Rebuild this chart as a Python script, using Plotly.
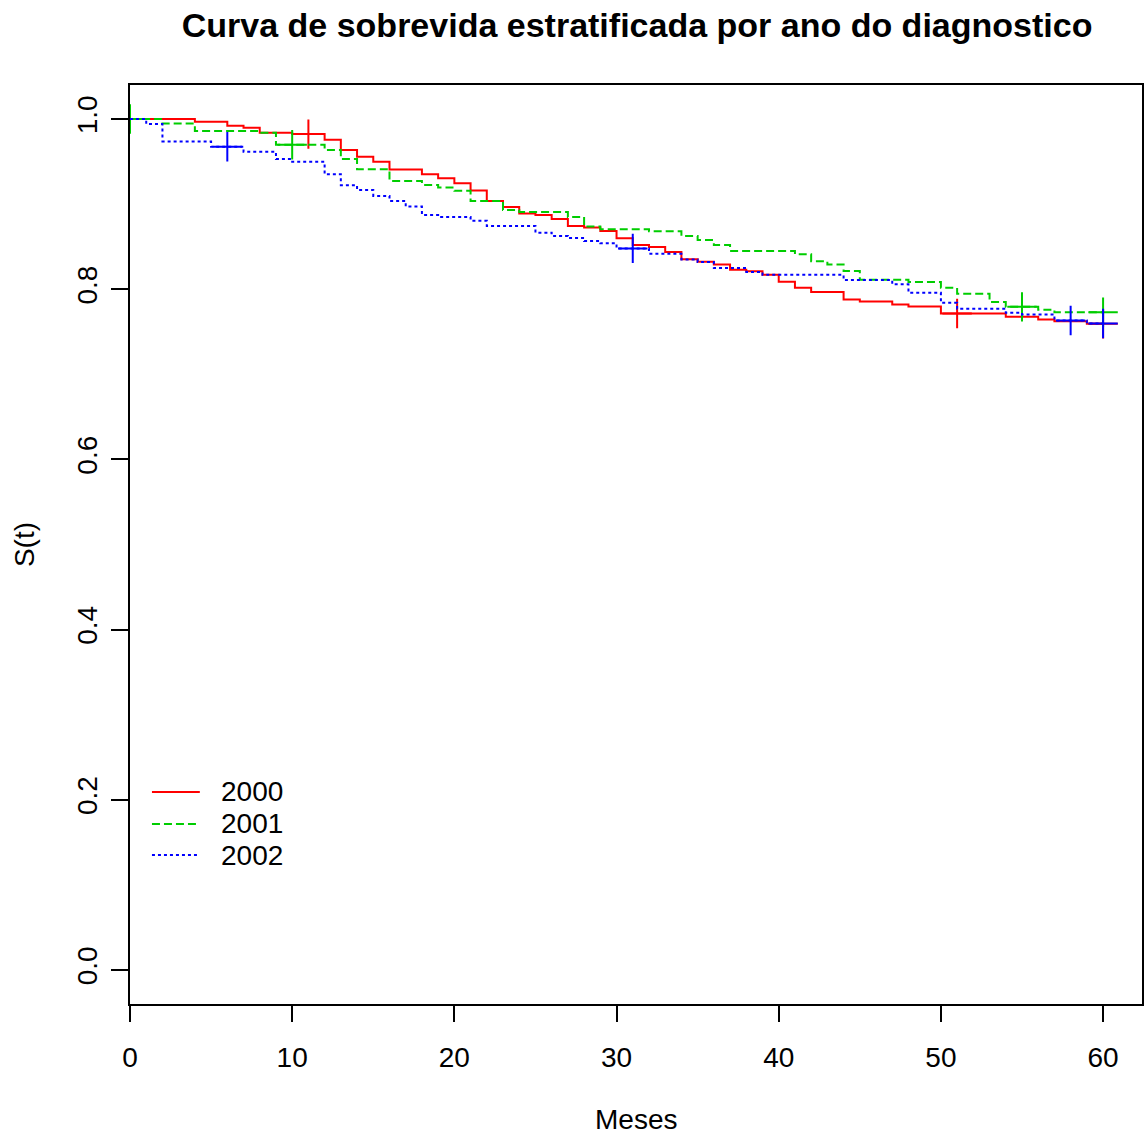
import plotly.graph_objects as go

# Kaplan-Meier estimates by year of diagnosis (time in months)
years = ["2000", "2001", "2002"]

t_2000 = [0, 4, 6, 7, 8, 10, 12, 13, 14, 15, 16, 18, 19, 20, 21, 22, 23, 24, 25, 26, 27, 28, 29, 30,
          31, 32, 33, 34, 35, 36, 37, 38, 39, 40, 41, 42, 44, 45, 47, 48, 50, 54, 56, 57, 59, 60]
s_2000 = [1.0, 0.9968, 0.992, 0.9898, 0.9839, 0.9823, 0.9757, 0.9635, 0.9556, 0.9497, 0.9407, 0.9352,
          0.9305, 0.9246, 0.916, 0.9038, 0.8967, 0.8889, 0.8873, 0.8826, 0.8743, 0.8724, 0.8684, 0.860,
          0.852, 0.8496, 0.8437, 0.8351, 0.8323, 0.8292, 0.8229, 0.821, 0.817, 0.8088, 0.8017, 0.7966,
          0.788, 0.7856, 0.782, 0.7797, 0.7715, 0.7676, 0.7644, 0.7625, 0.7593, 0.7593]
cens_t_2000 = [11, 51, 60]
cens_s_2000 = [0.9823, 0.7715, 0.7593]

t_2001 = [0, 2, 4, 8, 9, 12, 13, 14, 16, 18, 19, 20, 21, 23, 24, 27, 28, 29, 32, 34, 35, 36, 37,
          41, 42, 43, 44, 45, 48, 50, 51, 53, 54, 56, 57, 60]
s_2001 = [1.0, 0.9949, 0.986, 0.984, 0.9698, 0.9635, 0.9529, 0.941, 0.9273, 0.9226, 0.9195, 0.9156,
          0.9038, 0.8931, 0.8908, 0.885, 0.8736, 0.8704, 0.868, 0.8626, 0.8578, 0.852, 0.845, 0.841,
          0.833, 0.829, 0.8213, 0.811, 0.8084, 0.8017, 0.7946, 0.785, 0.7793, 0.776, 0.773, 0.773]
cens_t_2001 = [0, 10, 55, 60]
cens_s_2001 = [1.0, 0.9698, 0.7793, 0.773]

t_2002 = [0, 1, 2, 5, 7, 9, 10, 12, 13, 14, 15, 16, 17, 18, 19, 21, 22, 25, 26, 27, 28, 29, 30,
          32, 34, 35, 36, 38, 39, 44, 47, 48, 50, 51, 54, 55, 57, 59, 60]
s_2002 = [1.0, 0.9941, 0.9737, 0.9674, 0.9615, 0.9529, 0.9497, 0.9352, 0.9223, 0.9167, 0.9097, 0.9038,
          0.8971, 0.8873, 0.885, 0.8806, 0.8743, 0.8665, 0.8626, 0.8602, 0.8567, 0.854, 0.848, 0.8418,
          0.835, 0.832, 0.8249, 0.8202, 0.817, 0.8107, 0.8057, 0.7958, 0.784, 0.777, 0.7723, 0.7703,
          0.7633, 0.7597, 0.7597]
cens_t_2002 = [6, 31, 58, 60]
cens_s_2002 = [0.9674, 0.848, 0.7633, 0.7597]

x_ticks = [0, 10, 20, 30, 40, 50, 60]
y_ticks = [0.0, 0.2, 0.4, 0.6, 0.8, 1.0]

colors = ["#FF0000", "#00CD00", "#0000FF"]
dashes = ["solid", "8px,4px", "3px,3px"]

FONT = "Liberation Sans, Arial, Helvetica, sans-serif"
FS = 28

series = [
    (t_2000, s_2000, cens_t_2000, cens_s_2000),
    (t_2001, s_2001, cens_t_2001, cens_s_2001),
    (t_2002, s_2002, cens_t_2002, cens_s_2002),
]

fig = go.Figure()
for (t, s, ct, cs), name, col, dash in zip(series, years, colors, dashes):
    fig.add_trace(go.Scatter(
        x=t, y=s, mode="lines", name=name, line_shape="hv",
        line=dict(color=col, width=2, dash=dash), showlegend=False,
    ))
    fig.add_trace(go.Scatter(
        x=ct, y=cs, mode="markers", showlegend=False, hoverinfo="skip",
        marker=dict(symbol="cross-thin", size=21, line=dict(color=col, width=2)),
    ))

# Legend drawn in the lower-left corner of the panel (no box)
shapes = []
annotations = []
leg_rows = [0.2307, 0.1959, 0.1621]
for name, col, dash, yy in zip(years, colors, dashes, leg_rows):
    shapes.append(dict(type="line", xref="paper", yref="paper", x0=0.0217, x1=0.069, y0=yy, y1=yy,
                       line=dict(color=col, width=2, dash=dash)))
    annotations.append(dict(xref="paper", yref="paper", x=0.0877, y=yy, text=name, showarrow=False,
                            xanchor="left", yanchor="middle", font=dict(size=FS, color="black", family=FONT)))

# Axis titles
annotations.append(dict(xref="paper", yref="paper", x=0.5, y=-0.1262, text="Meses", showarrow=False,
                        xanchor="center", yanchor="middle", font=dict(size=FS, color="black", family=FONT)))
annotations.append(dict(xref="paper", yref="paper", x=-0.1036, y=0.4995, text="S(t)", showarrow=False,
                        textangle=-90, xanchor="center", yanchor="middle",
                        font=dict(size=FS, color="black", family=FONT)))

fig.update_layout(
    width=1144, height=1137,
    margin=dict(l=130, r=0, t=85, b=133),
    paper_bgcolor="white", plot_bgcolor="white",
    font=dict(family=FONT, size=FS, color="black"),
    title=dict(text="<b>Curva de sobrevida estratificada por ano do diagnostico</b>",
               x=0.5569, xanchor="center", y=1 - 25 / 1137, yanchor="middle",
               font=dict(size=34, color="black", family=FONT)),
    shapes=shapes,
    annotations=annotations,
    xaxis=dict(range=[0, 62.4], tickvals=x_ticks, ticktext=[str(v) for v in x_ticks],
               showgrid=False, zeroline=False, showline=True, mirror=True,
               linecolor="black", linewidth=2, ticks="outside", ticklen=16, tickwidth=2,
               tickcolor="black", tickfont=dict(size=FS), ticklabelstandoff=11),
    yaxis=dict(range=[-0.04, 1.04], tickvals=y_ticks, ticktext=[f"{v:.1f}" for v in y_ticks],
               showgrid=False, zeroline=False, showline=True, mirror=True,
               linecolor="black", linewidth=2, ticks="outside", ticklen=17, tickwidth=2,
               tickcolor="black", tickangle=-90, tickfont=dict(size=FS), ticklabelstandoff=3),
)

fig.write_html("out.html")
